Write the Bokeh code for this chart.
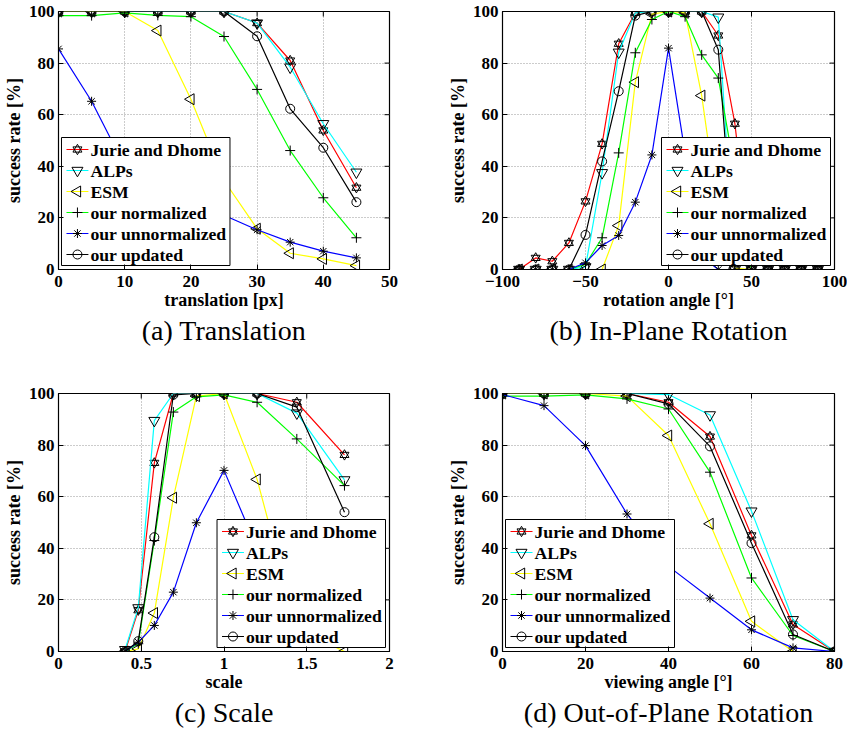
import math
from bokeh.plotting import figure
from bokeh.layouts import gridplot
from bokeh.models import Range1d, FixedTicker, CustomJSTickFormatter, Title
from bokeh.core.properties import value
from bokeh.embed import file_html
from bokeh.resources import INLINE

# ---------------- data ----------------
series_names = ["Jurie and Dhome", "ALPs", "ESM", "our normalized", "our unnormalized", "our updated"]

# (a) Translation
trans_x = [0, 5, 10, 15, 20, 25, 30, 35, 40, 45]
trans_jurie = [100, 100, 100, 100, 100, 100, 95.5, 81, 53.9, 31.7]
trans_alps = [100, 100, 100, 100, 100, 100, 95.5, 78.4, 56.5, 37.7]
trans_esm = [100, 100, 100, 92.6, 66, 34.5, 15.8, 6.3, 4.1, 1.5]
trans_norm = [98.4, 98.4, 99.5, 98.5, 98, 90.3, 69.8, 46.1, 27.8, 12.3]
trans_unnorm = [85.5, 65.2, 40, 31, 25, 21, 15.4, 10.6, 7.1, 4.5]
trans_upd = [100, 100, 100, 100, 100, 100, 90.4, 62.3, 47.2, 26.1]

# (b) In-plane rotation
rot_x = [-90, -80, -70, -60, -50, -40, -30, -20, -10, 0, 10, 20, 30, 40, 50, 60, 70, 80, 90]
rot_jurie = [0, 4.5, 3.2, 10.3, 26.4, 48.7, 87.5, 99.5, 100, 100, 100, 100, 90.7, 56.5, 0, 0, 0, 0, 0]
rot_alps = [0, 0, 0, 0, 1, 37.5, 84.2, 99.5, 100, 100, 100, 100, 97.8, 0, 0, 0, 0, 0, 0]
rot_esm = [0, 0, 0, 0, 0, 0, 17, 72.6, 99, 100, 99.5, 67.4, 22, 0.5, 0, 0, 0, 0, 0]
rot_norm = [0, 0, 0, 0, 2, 12.3, 45.2, 84, 96.9, 100, 98, 83.2, 74.2, 38, 0, 0, 0, 0, 0]
rot_unnorm = [0, 0, 0, 0, 2.6, 9.3, 13.2, 26.1, 44.4, 85.8, 45, 5, 0, 0, 0, 0, 0, 0, 0]
rot_upd = [0, 0, 0, 0, 13.4, 41.9, 69.1, 98.4, 100, 100, 100, 100, 85.2, 0, 0, 0, 0, 0, 0]

# (c) Scale
scale_x = [0.402, 0.482, 0.579, 0.694, 0.833, 1.0, 1.2, 1.44, 1.728]
scale_jurie = [0, 16, 73.1, 100, 100, 100, 100, 96.6, 76.2]
scale_alps = [0.7, 16.9, 89.5, 100, 100, 100, 100, 92.4, 66.5]
scale_esm = [0, 1, 14.9, 59.6, 99, 100, 66.7, 9, 0]
scale_norm = [0, 3, 43, 92.8, 98.7, 99.5, 96.6, 82.4, 64.3]
scale_unnorm = [0, 3.6, 10.1, 23, 49.9, 70.2, 40, 15, 5]
scale_upd = [0, 4, 44.3, 99.5, 100, 100, 100, 94.7, 54]

# (d) Out-of-plane rotation
view_x = [0, 10, 20, 30, 40, 50, 60, 70, 80]
view_jurie = [100, 100, 100, 100, 96.6, 83.3, 45, 10.5, 0]
view_alps = [100, 100, 100, 100, 99.6, 91.7, 54.4, 12.3, 0]
view_esm = [100, 100, 100, 99, 83.7, 49.5, 11.7, 0, 0]
view_norm = [99, 99, 99.5, 97.9, 94, 69.5, 28.5, 6.2, 0]
view_unnorm = [99.6, 95.3, 79.8, 53.3, 33, 20.7, 8.4, 1.4, 0]
view_upd = [100, 100, 100, 100, 96, 79.5, 42, 6.6, 0]

y_ticks = [0, 20, 40, 60, 80, 100]
trans_ticks = [0, 10, 20, 30, 40, 50]
rot_ticks = [-100, -50, 0, 50, 100]
scale_ticks = [0, 0.5, 1, 1.5, 2]
view_ticks = [0, 20, 40, 60, 80]

# ---------------- style ----------------
line_colors = ["#ff0000", "#00ffff", "#ffff00", "#00ff00", "#0000ff", "#000000"]
marker_defs = [
    [("triangle", 0.0, 9), ("inverted_triangle", 0.0, 9)],
    [("inverted_triangle", 0.0, 11)],
    [("triangle", math.pi / 2, 11)],
    [("cross", 0.0, 10)],
    [("asterisk", 0.0, 9)],
    [("circle", 0.0, 9)],
]
SERIF = "Liberation Serif"
FRAME_W, FRAME_H = 332, 258
LEG_W, LEG_H, LEG_BOTTOM = 169, 128, 4
TICK_LEN = 5

fmt = CustomJSTickFormatter(code="return tick < 0 ? '\u2212' + (-tick) : '' + tick;")


def style_axis(ax):
    ax.axis_line_color = "black"
    ax.major_tick_line_color = "black"
    ax.minor_tick_line_color = None
    ax.major_tick_in = TICK_LEN
    ax.major_tick_out = 0
    ax.major_label_text_font = SERIF
    ax.major_label_text_font_style = "bold"
    ax.major_label_text_font_size = "17px"
    ax.major_label_text_color = "black"
    ax.axis_label_text_font = SERIF
    ax.axis_label_text_font_style = "bold"
    ax.axis_label_text_font_size = "18px"
    ax.axis_label_text_color = "black"


def panel(x, ys, xr, xticks, xlabel, caption, leg_left, w, h, bl, br, bt, bb):
    p = figure(width=w, height=h, x_range=Range1d(*xr), y_range=Range1d(0, 100),
               output_backend="svg", toolbar_location=None,
               min_border_left=bl, min_border_right=br, min_border_top=bt, min_border_bottom=bb)
    p.background_fill_color = "white"
    p.border_fill_color = "white"
    p.outline_line_color = "black"
    p.outline_line_width = 1.2
    p.xaxis.ticker = FixedTicker(ticks=xticks)
    p.yaxis.ticker = FixedTicker(ticks=y_ticks)
    p.xaxis.formatter = fmt
    p.yaxis.formatter = fmt
    p.xaxis.axis_label = xlabel
    p.yaxis.axis_label = "success rate [%]"
    style_axis(p.xaxis[0])
    style_axis(p.yaxis[0])
    p.xaxis.major_label_standoff = 6
    p.yaxis.major_label_standoff = 4
    p.xaxis.axis_label_standoff = 0
    p.yaxis.axis_label_standoff = 2

    p.xgrid.grid_line_color = "#999999"
    p.ygrid.grid_line_color = "#999999"
    p.xgrid.grid_line_dash = "1 2"
    p.ygrid.grid_line_dash = "1 2"

    def px2x(px):
        return xr[0] + px * (xr[1] - xr[0]) / FRAME_W

    def py2y(py):
        return py * 100.0 / FRAME_H

    # mirrored inward tick marks on the top and right edges of the box
    p.segment(x0=xticks, y0=[100] * len(xticks), x1=xticks,
              y1=[py2y(FRAME_H - TICK_LEN)] * len(xticks), line_color="black", line_width=1)
    p.segment(x0=[xr[1]] * len(y_ticks), y0=y_ticks, x1=[px2x(FRAME_W - TICK_LEN)] * len(y_ticks),
              y1=y_ticks, line_color="black", line_width=1)

    for i, y in enumerate(ys):
        p.line(x, y, line_color=line_colors[i], line_width=1.2)
        for (mk, ang, sz) in marker_defs[i]:
            p.scatter(x, y, marker=mk, angle=ang, size=sz, line_color="black",
                      fill_color=None, line_width=1)

    # ---- legend box drawn at frame pixel offsets ----
    p.quad(left=[px2x(leg_left)], right=[px2x(leg_left + LEG_W)],
           bottom=[py2y(LEG_BOTTOM)], top=[py2y(LEG_BOTTOM + LEG_H)],
           fill_color="white", line_color="black", line_width=1)
    for i, name in enumerate(series_names):
        cy = LEG_BOTTOM + LEG_H - 12 - 21 * i
        p.line([px2x(leg_left + 5), px2x(leg_left + 27)], [py2y(cy), py2y(cy)],
               line_color=line_colors[i], line_width=1.2)
        for (mk, ang, sz) in marker_defs[i]:
            p.scatter([px2x(leg_left + 16)], [py2y(cy)], marker=mk, angle=ang, size=sz,
                      line_color="black", fill_color=None, line_width=1)
        p.text([px2x(leg_left + 29)], [py2y(cy)], text=[name], text_font=value(SERIF),
               text_font_style="bold", text_font_size="17.7px", text_color="black",
               text_baseline="middle", text_align="left")

    t = Title(text=caption, align="center", text_font=SERIF, text_font_style="normal",
              text_font_size="28px", text_color="black", standoff=0)
    p.add_layout(t, "below")
    return p


pa = panel(trans_x, [trans_jurie, trans_alps, trans_esm, trans_norm, trans_unnorm, trans_upd],
           (0, 50), trans_ticks, "translation [px]", "(a) Translation", 3,
           423, 370, 57, 34, 11, 101)
pb = panel(rot_x, [rot_jurie, rot_alps, rot_esm, rot_norm, rot_unnorm, rot_upd],
           (-100, 100), rot_ticks, "rotation angle [\u00b0]", "(b) In-Plane Rotation", 159,
           424, 370, 79, 13, 11, 101)
pc = panel(scale_x, [scale_jurie, scale_alps, scale_esm, scale_norm, scale_unnorm, scale_upd],
           (0, 2), scale_ticks, "scale", "(c) Scale", 159,
           423, 361, 57, 34, 23, 80)
pd = panel(view_x, [view_jurie, view_alps, view_esm, view_norm, view_unnorm, view_upd],
           (0, 80), view_ticks, "viewing angle [\u00b0]", "(d) Out-of-Plane Rotation", 3,
           424, 361, 79, 13, 23, 80)

grid = gridplot([[pa, pb], [pc, pd]], toolbar_location=None)

open("out.html", "w").write(file_html(grid, INLINE))
